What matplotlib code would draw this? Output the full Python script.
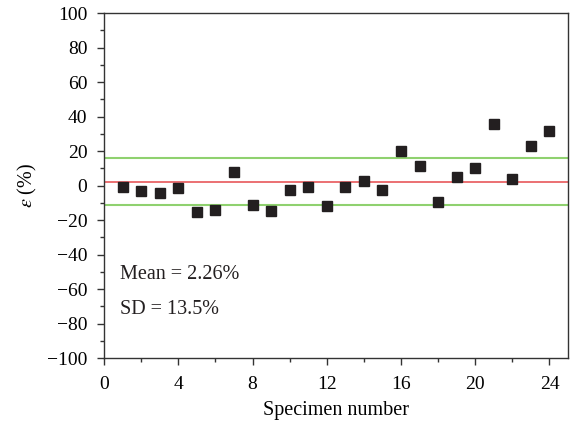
import numpy as np
import matplotlib.pyplot as plt
from matplotlib.ticker import MultipleLocator

plt.rcParams['font.family'] = ['Liberation Serif', 'DejaVu Serif']
plt.rcParams['mathtext.fontset'] = 'stix'

# relative error of each specimen
specimen = np.arange(1, 25)
err = [-0.7, -3.2, -4.2, -1.3, -15.4, -14.2, 8.0, -11.1, -15.0, -2.8, -1.0, -11.7,
       -1.0, 2.6, -2.4, 19.8, 11.1, -9.4, 5.1, 10.1, 35.7, 3.9, 22.9, 31.8]
mean = 2.26
sd = 13.5

fig = plt.figure(figsize=(5.72, 4.29), dpi=100)
ax = fig.add_axes([0.182, 0.1655, 0.811, 0.804])

ax.axhline(mean, color='#e8585a', lw=1.2, zorder=1)
ax.axhline(mean + sd, color='#8fd16f', lw=1.5, zorder=1)
ax.axhline(mean - sd, color='#8fd16f', lw=1.5, zorder=1)
ax.plot(specimen, err, 's', color='#231f20', ms=7.2, mec='#231f20', zorder=3)

ax.set_xlim(0, 25)
ax.set_ylim(-100, 100)
ax.xaxis.set_major_locator(MultipleLocator(4))
ax.xaxis.set_minor_locator(MultipleLocator(2))
ax.yaxis.set_major_locator(MultipleLocator(20))
ax.yaxis.set_minor_locator(MultipleLocator(10))
ax.tick_params(which='both', direction='out', top=False, right=False,
               labelsize=14, color='#333333', width=1)
ax.tick_params(which='major', length=5)
ax.tick_params(which='minor', length=3)
ax.tick_params(axis='y', which='major', pad=7)
ax.tick_params(axis='x', which='major', pad=8)
for s in ax.spines.values():
    s.set_color('#333333')
    s.set_linewidth(1)

ax.set_xlabel('Specimen number', fontsize=14.5, labelpad=6)
ax.set_ylabel(r'$\varepsilon$ (%)', fontsize=14.5, labelpad=6)

ax.text(0.85, -51.5, 'Mean = 2.26%', fontsize=14.5, va='center', color='#231f20')
ax.text(0.85, -71.8, 'SD = 13.5%', fontsize=14.5, va='center', color='#231f20')

fig.savefig('out.png', dpi=100)
